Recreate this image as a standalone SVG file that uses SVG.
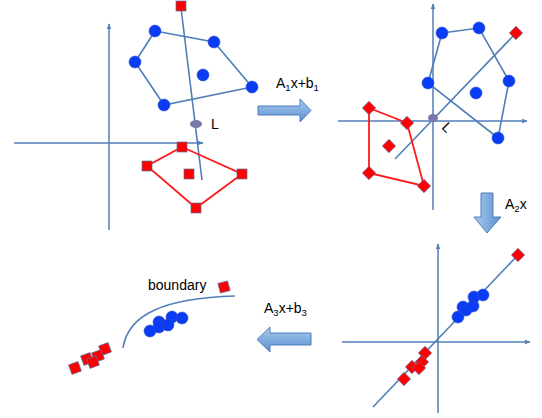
<svg xmlns="http://www.w3.org/2000/svg" width="542" height="418" viewBox="0 0 542 418">
<defs>
<marker id="ah" viewBox="0 0 10 10" refX="9" refY="5" markerWidth="6" markerHeight="6" orient="auto" markerUnits="userSpaceOnUse">
<path d="M0,1 L10,5 L0,9 Z" fill="#4f7fb8"/>
</marker>
<linearGradient id="gh" x1="0" y1="0" x2="0" y2="1">
<stop offset="0" stop-color="#a9cbef"/><stop offset="1" stop-color="#5b8fd0"/>
</linearGradient>
<linearGradient id="gv" x1="0" y1="0" x2="1" y2="0">
<stop offset="0" stop-color="#a9cbef"/><stop offset="1" stop-color="#5b8fd0"/>
</linearGradient>
<rect id="sq" x="-5" y="-5" width="10" height="10"/>
<rect id="dm" x="-4.7" y="-4.7" width="9.4" height="9.4" transform="rotate(45)"/>
</defs>
<style>
.ax{stroke:#4f7fb8;stroke-width:1.5;fill:none}
.ln{stroke:#4f7fb8;stroke-width:1.6;fill:none}
.rl{stroke:#ff1a1a;stroke-width:1.8;fill:none}
.bc{fill:#0a3cf5;stroke:#2a50c8;stroke-width:0.6}
.rs{fill:#ff0000;stroke:#5a6fa5;stroke-width:0.7}
.tx{font-family:"Liberation Sans",Arial,sans-serif;font-size:14px;fill:#000}
.sub{font-size:9.5px}
.arr{stroke:#4f7fb8;stroke-width:1}
</style>

<g id="panel1">
<line class="ax" x1="109" y1="230" x2="109" y2="24" marker-end="url(#ah)"/>
<line class="ax" x1="14" y1="143" x2="203" y2="143" marker-end="url(#ah)"/>
<line class="ln" x1="181" y1="8" x2="202" y2="180"/>
<polygon class="ln" points="155,31 214,42 252,87 164,105 135,62"/>
<polygon class="rl" points="182,147 242,174 196,208 147,166"/>
<g class="bc">
<circle cx="155" cy="31" r="6"/><circle cx="214" cy="42" r="6"/><circle cx="135" cy="62" r="6"/>
<circle cx="203" cy="75" r="6"/><circle cx="252" cy="87" r="6"/><circle cx="164" cy="105" r="6"/>
</g>
<g class="rs">
<use href="#sq" x="181" y="6"/><use href="#sq" x="182" y="147"/><use href="#sq" x="147" y="166"/>
<use href="#sq" x="189" y="174"/><use href="#sq" x="242" y="174"/><use href="#sq" x="196" y="208"/>
</g>
<ellipse cx="196" cy="124" rx="6" ry="4" fill="#7a78a8"/>
<text class="tx" x="211" y="129">L</text>
</g>

<g id="panel2">
<line class="ax" x1="433" y1="210" x2="433" y2="4" marker-end="url(#ah)"/>
<line class="ax" x1="338" y1="121" x2="527" y2="121" marker-end="url(#ah)"/>
<line class="ln" x1="516" y1="33" x2="395" y2="159"/>
<polygon class="ln" points="442,33 479,28 509,81 498,138 428,83"/>
<polygon class="rl" points="369,108 407,123 424,186 369,173"/>
<g class="bc">
<circle cx="442" cy="33" r="6"/><circle cx="479" cy="28" r="6"/><circle cx="428" cy="83" r="6"/>
<circle cx="509" cy="81" r="6"/><circle cx="476" cy="93" r="6"/><circle cx="498" cy="138" r="6"/>
</g>
<g class="rs">
<use href="#dm" x="516" y="33"/><use href="#dm" x="369" y="108"/><use href="#dm" x="407" y="123"/>
<use href="#dm" x="389" y="146"/><use href="#dm" x="369" y="173"/><use href="#dm" x="424" y="186"/>
</g>
<ellipse cx="433" cy="118" rx="5" ry="4" fill="#7a78a8"/>
<text class="tx" x="0" y="0" transform="translate(441,128) rotate(45)">L</text>
</g>

<g id="panel3">
<line class="ax" x1="438" y1="413" x2="438" y2="244" marker-end="url(#ah)"/>
<line class="ax" x1="342" y1="342" x2="530" y2="342" marker-end="url(#ah)"/>
<line class="ln" x1="373" y1="407" x2="518" y2="255"/>
<g class="bc">
<circle cx="458" cy="317" r="6"/><circle cx="463" cy="307" r="6"/><circle cx="466" cy="310" r="6"/>
<circle cx="473" cy="306" r="6"/><circle cx="474" cy="297" r="6"/><circle cx="483" cy="295" r="6"/>
</g>
<g class="rs">
<use href="#dm" x="518" y="255"/><use href="#dm" x="425" y="353"/><use href="#dm" x="422" y="362"/>
<use href="#dm" x="412" y="367"/><use href="#dm" x="419" y="368"/><use href="#dm" x="404" y="379"/>
</g>
</g>

<g id="panel4">
<path class="ln" d="M123,348 C128,314 165,298 235,296"/>
<g class="bc">
<circle cx="159" cy="322" r="6"/><circle cx="172" cy="317" r="6"/><circle cx="182" cy="318" r="6"/>
<circle cx="150" cy="331" r="6"/><circle cx="159" cy="327" r="6"/><circle cx="168" cy="325" r="6"/>
</g>
<g class="rs">
<use href="#sq" transform="translate(224,287) rotate(-15)"/>
<use href="#sq" transform="translate(105,349) rotate(-20)"/>
<use href="#sq" transform="translate(87,359) rotate(-20)"/>
<use href="#sq" transform="translate(98,356) rotate(-20)"/>
<use href="#sq" transform="translate(93,362) rotate(-20)"/>
<use href="#sq" transform="translate(75,368) rotate(-20)"/>
</g>
<text class="tx" x="148" y="290">boundary</text>
</g>

<g id="connectors">
<g id="t1">
<path class="arr" fill="url(#gh)" d="M258,106 L300,106 L300,99 L311,110.5 L300,122 L300,115 L258,115 Z"/>
<text class="tx" x="276" y="88">A<tspan class="sub" dy="3">1</tspan><tspan dy="-3">x+b</tspan><tspan class="sub" dy="3">1</tspan></text>
</g>
<g id="t2">
<path class="arr" fill="url(#gv)" d="M481,193 L493,193 L493,217 L501,217 L487,233 L474,217 L481,217 Z"/>
<text class="tx" x="505" y="209">A<tspan class="sub" dy="3">2</tspan><tspan dy="-3">x</tspan></text>
</g>
<g id="t3">
<path class="arr" fill="url(#gh)" d="M311,333 L270,333 L270,327 L257,339.5 L270,352 L270,345 L311,345 Z"/>
<text class="tx" x="264" y="313">A<tspan class="sub" dy="3">3</tspan><tspan dy="-3">x+b</tspan><tspan class="sub" dy="3">3</tspan></text>
</g>
</g>
</svg>
